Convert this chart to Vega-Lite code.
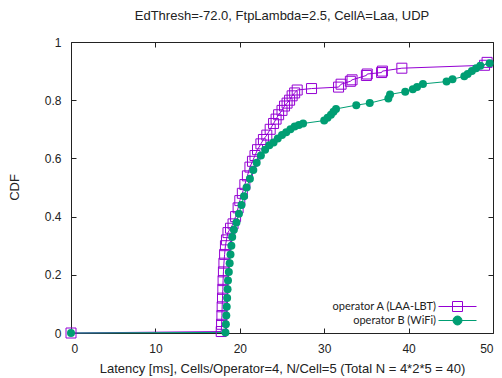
{
  "$schema": "https://vega.github.io/schema/vega-lite/v6.json",
  "width": 422,
  "height": 291,
  "autosize": {"type": "none"},
  "padding": {"left": 71, "top": 42, "right": 9, "bottom": 45},
  "background": "white",
  "config": {
    "view": {"stroke": "#222", "strokeWidth": 1},
    "font": "Liberation Sans",
    "axis": {"labelFont": "Liberation Sans", "titleFont": "Liberation Sans", "labelColor": "#222", "titleColor": "#222", "tickColor": "#222", "grid": false, "domain": false, "titleFontWeight": "normal"}
  },
  "title": {"text": "EdThresh=-72.0, FtpLambda=2.5, CellA=Laa, UDP", "fontSize": 13, "fontWeight": "normal", "font": "Liberation Sans", "color": "#222", "offset": 13, "anchor": "middle"},
  "data": {"values": [
    {"op": "operator A (LAA-LBT)", "x": 0, "y": 0},
    {"op": "operator A (LAA-LBT)", "x": 17.8, "y": 0.005},
    {"op": "operator A (LAA-LBT)", "x": 17.84, "y": 0.03},
    {"op": "operator A (LAA-LBT)", "x": 17.88, "y": 0.06},
    {"op": "operator A (LAA-LBT)", "x": 17.91, "y": 0.09},
    {"op": "operator A (LAA-LBT)", "x": 17.95, "y": 0.12},
    {"op": "operator A (LAA-LBT)", "x": 17.99, "y": 0.15},
    {"op": "operator A (LAA-LBT)", "x": 18.02, "y": 0.18},
    {"op": "operator A (LAA-LBT)", "x": 18.06, "y": 0.21},
    {"op": "operator A (LAA-LBT)", "x": 18.12, "y": 0.24},
    {"op": "operator A (LAA-LBT)", "x": 18.2, "y": 0.27},
    {"op": "operator A (LAA-LBT)", "x": 18.3, "y": 0.3},
    {"op": "operator A (LAA-LBT)", "x": 18.42, "y": 0.32},
    {"op": "operator A (LAA-LBT)", "x": 18.6, "y": 0.345},
    {"op": "operator A (LAA-LBT)", "x": 18.9, "y": 0.36},
    {"op": "operator A (LAA-LBT)", "x": 19.2, "y": 0.375},
    {"op": "operator A (LAA-LBT)", "x": 19.5, "y": 0.4},
    {"op": "operator A (LAA-LBT)", "x": 19.8, "y": 0.43},
    {"op": "operator A (LAA-LBT)", "x": 20.0, "y": 0.455},
    {"op": "operator A (LAA-LBT)", "x": 20.3, "y": 0.48},
    {"op": "operator A (LAA-LBT)", "x": 20.6, "y": 0.51},
    {"op": "operator A (LAA-LBT)", "x": 20.9, "y": 0.54},
    {"op": "operator A (LAA-LBT)", "x": 21.2, "y": 0.57},
    {"op": "operator A (LAA-LBT)", "x": 21.5, "y": 0.59},
    {"op": "operator A (LAA-LBT)", "x": 21.8, "y": 0.61},
    {"op": "operator A (LAA-LBT)", "x": 22.1, "y": 0.63},
    {"op": "operator A (LAA-LBT)", "x": 22.5, "y": 0.65},
    {"op": "operator A (LAA-LBT)", "x": 22.8, "y": 0.665},
    {"op": "operator A (LAA-LBT)", "x": 23.2, "y": 0.68},
    {"op": "operator A (LAA-LBT)", "x": 23.6, "y": 0.7},
    {"op": "operator A (LAA-LBT)", "x": 24.0, "y": 0.72},
    {"op": "operator A (LAA-LBT)", "x": 24.3, "y": 0.735},
    {"op": "operator A (LAA-LBT)", "x": 24.6, "y": 0.75},
    {"op": "operator A (LAA-LBT)", "x": 25.0, "y": 0.765},
    {"op": "operator A (LAA-LBT)", "x": 25.3, "y": 0.78},
    {"op": "operator A (LAA-LBT)", "x": 25.6, "y": 0.79},
    {"op": "operator A (LAA-LBT)", "x": 25.9, "y": 0.8},
    {"op": "operator A (LAA-LBT)", "x": 26.2, "y": 0.815},
    {"op": "operator A (LAA-LBT)", "x": 26.5, "y": 0.825},
    {"op": "operator A (LAA-LBT)", "x": 26.8, "y": 0.835},
    {"op": "operator A (LAA-LBT)", "x": 28.5, "y": 0.84},
    {"op": "operator A (LAA-LBT)", "x": 31.7, "y": 0.845},
    {"op": "operator A (LAA-LBT)", "x": 32.0, "y": 0.855},
    {"op": "operator A (LAA-LBT)", "x": 33.1, "y": 0.865},
    {"op": "operator A (LAA-LBT)", "x": 33.3, "y": 0.87},
    {"op": "operator A (LAA-LBT)", "x": 35.0, "y": 0.885},
    {"op": "operator A (LAA-LBT)", "x": 35.1, "y": 0.89},
    {"op": "operator A (LAA-LBT)", "x": 36.8, "y": 0.895},
    {"op": "operator A (LAA-LBT)", "x": 36.9, "y": 0.9},
    {"op": "operator A (LAA-LBT)", "x": 39.2, "y": 0.91},
    {"op": "operator A (LAA-LBT)", "x": 49.0, "y": 0.92},
    {"op": "operator A (LAA-LBT)", "x": 49.3, "y": 0.93},
    {"op": "operator B (WiFi)", "x": 0, "y": 0},
    {"op": "operator B (WiFi)", "x": 18.3, "y": 0.002},
    {"op": "operator B (WiFi)", "x": 18.35, "y": 0.03},
    {"op": "operator B (WiFi)", "x": 18.4, "y": 0.06},
    {"op": "operator B (WiFi)", "x": 18.45, "y": 0.09},
    {"op": "operator B (WiFi)", "x": 18.5, "y": 0.12},
    {"op": "operator B (WiFi)", "x": 18.55, "y": 0.15},
    {"op": "operator B (WiFi)", "x": 18.6, "y": 0.18},
    {"op": "operator B (WiFi)", "x": 18.7, "y": 0.21},
    {"op": "operator B (WiFi)", "x": 18.8, "y": 0.24},
    {"op": "operator B (WiFi)", "x": 18.9, "y": 0.27},
    {"op": "operator B (WiFi)", "x": 19.0, "y": 0.3},
    {"op": "operator B (WiFi)", "x": 19.1, "y": 0.33},
    {"op": "operator B (WiFi)", "x": 19.3, "y": 0.355},
    {"op": "operator B (WiFi)", "x": 19.6, "y": 0.38},
    {"op": "operator B (WiFi)", "x": 19.9, "y": 0.41},
    {"op": "operator B (WiFi)", "x": 20.2, "y": 0.44},
    {"op": "operator B (WiFi)", "x": 20.5, "y": 0.47},
    {"op": "operator B (WiFi)", "x": 20.8, "y": 0.5},
    {"op": "operator B (WiFi)", "x": 21.2, "y": 0.53},
    {"op": "operator B (WiFi)", "x": 21.6, "y": 0.56},
    {"op": "operator B (WiFi)", "x": 22.0, "y": 0.585},
    {"op": "operator B (WiFi)", "x": 22.5, "y": 0.61},
    {"op": "operator B (WiFi)", "x": 23.0, "y": 0.63},
    {"op": "operator B (WiFi)", "x": 23.5, "y": 0.645},
    {"op": "operator B (WiFi)", "x": 24.0, "y": 0.655},
    {"op": "operator B (WiFi)", "x": 24.5, "y": 0.668},
    {"op": "operator B (WiFi)", "x": 25.0, "y": 0.68},
    {"op": "operator B (WiFi)", "x": 25.5, "y": 0.69},
    {"op": "operator B (WiFi)", "x": 26.0, "y": 0.7},
    {"op": "operator B (WiFi)", "x": 26.5, "y": 0.71},
    {"op": "operator B (WiFi)", "x": 27.0, "y": 0.715},
    {"op": "operator B (WiFi)", "x": 27.5, "y": 0.72},
    {"op": "operator B (WiFi)", "x": 30.0, "y": 0.73},
    {"op": "operator B (WiFi)", "x": 30.4, "y": 0.74},
    {"op": "operator B (WiFi)", "x": 30.8, "y": 0.75},
    {"op": "operator B (WiFi)", "x": 31.1, "y": 0.76},
    {"op": "operator B (WiFi)", "x": 31.4, "y": 0.77},
    {"op": "operator B (WiFi)", "x": 33.8, "y": 0.783},
    {"op": "operator B (WiFi)", "x": 35.4, "y": 0.79},
    {"op": "operator B (WiFi)", "x": 37.6, "y": 0.806},
    {"op": "operator B (WiFi)", "x": 37.8, "y": 0.82},
    {"op": "operator B (WiFi)", "x": 39.6, "y": 0.829},
    {"op": "operator B (WiFi)", "x": 40.5, "y": 0.838},
    {"op": "operator B (WiFi)", "x": 41.0, "y": 0.845},
    {"op": "operator B (WiFi)", "x": 41.7, "y": 0.856},
    {"op": "operator B (WiFi)", "x": 44.5, "y": 0.864},
    {"op": "operator B (WiFi)", "x": 45.2, "y": 0.872},
    {"op": "operator B (WiFi)", "x": 46.6, "y": 0.882},
    {"op": "operator B (WiFi)", "x": 47.0, "y": 0.89},
    {"op": "operator B (WiFi)", "x": 47.5, "y": 0.9},
    {"op": "operator B (WiFi)", "x": 48.0, "y": 0.91},
    {"op": "operator B (WiFi)", "x": 48.5, "y": 0.918},
    {"op": "operator B (WiFi)", "x": 49.6, "y": 0.927}
  ]},
  "layer": [
    {
      "mark": {"type": "line", "strokeWidth": 1, "clip": false},
      "encoding": {
        "x": {"field": "x", "type": "quantitative", "scale": {"domain": [0, 50], "nice": false, "zero": false},
              "axis": {"orient": "bottom", "values": [0, 10, 20, 30, 40, 50], "tickSize": -5, "labelPadding": 15, "labelFontSize": 12, "title": "Latency [ms], Cells/Operator=4, N/Cell=5 (Total N = 4*2*5 = 40)", "titleFontSize": 13, "titleX": 211, "titleY": 35, "titleBaseline": "middle", "titleAnchor": "middle"}},
        "y": {"field": "y", "type": "quantitative", "scale": {"domain": [0, 1], "nice": false, "zero": false},
              "axis": {"orient": "left", "values": [0, 0.2, 0.4, 0.6, 0.8, 1], "format": "~g", "tickSize": -5, "labelPadding": 15, "labelFontSize": 12, "title": "CDF", "titleFontSize": 13, "titleX": -57, "titleY": 145, "titleBaseline": "middle", "titleAnchor": "middle"}},
        "color": {"field": "op", "type": "nominal", "scale": {"domain": ["operator A (LAA-LBT)", "operator B (WiFi)"], "range": ["#9400d3", "#009e73"]},
                  "legend": {"orient": "none", "legendX": 381, "legendY": 259, "title": null, "padding": 0, "labelFont": "Lato", "labelFontSize": 11, "labelColor": "#222", "labelAlign": "right", "labelOffset": -27, "rowPadding": 0, "symbolSize": 100, "symbolStrokeWidth": 1,
                    "encode": {"symbols": {"update": {
                      "shape": {"signal": "datum.value === 'operator A (LAA-LBT)' ? 'M-3.8,0H3.8M-1,-1H1V1H-1Z' : 'M-3.8,0H3.8M0.9,0A0.9,0.9,0,1,1,-0.9,0A0.9,0.9,0,1,1,0.9,0Z'"},
                      "fill": {"signal": "datum.value === 'operator A (LAA-LBT)' ? 'transparent' : '#009e73'"},
                      "stroke": {"signal": "datum.value === 'operator A (LAA-LBT)' ? '#9400d3' : '#009e73'"},
                      "strokeWidth": {"value": 1},
                      "opacity": {"value": 1}
                    }}}}},
        "order": {"field": "y", "type": "quantitative"}
      }
    },
    {
      "transform": [{"filter": "datum.op === 'operator A (LAA-LBT)'"}],
      "mark": {"type": "point", "shape": "square", "filled": false, "size": 100, "strokeWidth": 1, "color": "#9400d3", "opacity": 1, "clip": false},
      "encoding": {
        "x": {"field": "x", "type": "quantitative", "axis": {"orient": "top", "values": [0, 10, 20, 30, 40, 50], "tickSize": -5, "labels": false, "title": null}},
        "y": {"field": "y", "type": "quantitative", "axis": {"orient": "right", "values": [0, 0.2, 0.4, 0.6, 0.8, 1], "tickSize": -5, "labels": false, "title": null}}
      }
    },
    {
      "transform": [{"filter": "datum.op === 'operator B (WiFi)'"}],
      "mark": {"type": "point", "shape": "circle", "filled": true, "size": 64, "color": "#009e73", "opacity": 1, "clip": false},
      "encoding": {
        "x": {"field": "x", "type": "quantitative", "axis": null},
        "y": {"field": "y", "type": "quantitative", "axis": null}
      }
    }
  ]
}
